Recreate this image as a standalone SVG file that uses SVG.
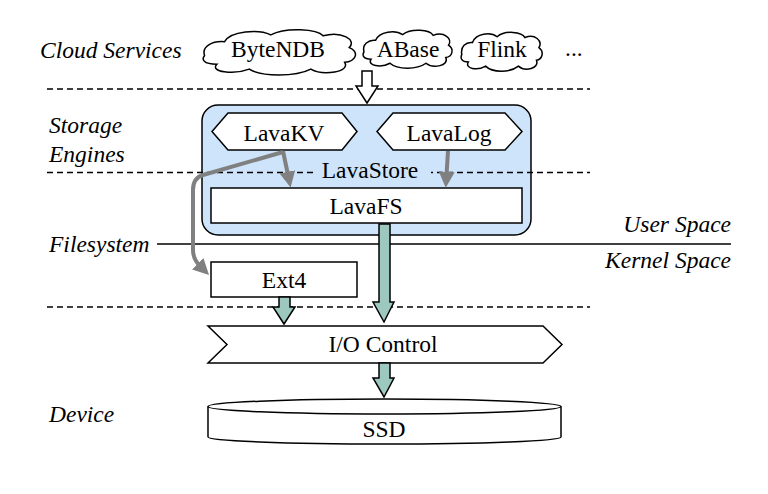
<svg xmlns="http://www.w3.org/2000/svg" width="768" height="494" viewBox="0 0 768 494">
<style>
text{font-family:"Liberation Serif","Times New Roman",serif;font-size:23.5px;fill:#000}
.lbl{font-style:italic}
.n{text-anchor:middle}
.ol{fill:#fff;stroke:#000;stroke-width:1.5}
.dash{stroke:#000;stroke-width:1.5;stroke-dasharray:6 4;fill:none}
.gray{stroke:#808080;stroke-width:4;fill:none}
.teal{fill:#9cc8bf;stroke:#000;stroke-width:1.5;stroke-linejoin:miter}
.cloud{fill:#fff;stroke:#000;stroke-width:1.5;vector-effect:non-scaling-stroke}
</style>
<defs>
<marker id="gh" viewBox="0 0 10 10" refX="2" refY="5" markerUnits="userSpaceOnUse" markerWidth="16" markerHeight="16" orient="auto">
<path d="M0,0 L10,5 L0,10 z" fill="#808080"/>
</marker>
</defs>
<rect width="768" height="494" fill="#fff"/>

<g id="layer-labels">
<text class="lbl" x="40" y="58">Cloud Services</text>
<text class="lbl" x="49" y="133">Storage</text>
<text class="lbl" x="49" y="162">Engines</text>
<text class="lbl" x="49" y="252">Filesystem</text>
<text class="lbl" x="49" y="422">Device</text>
<text class="lbl" x="731" y="232" text-anchor="end">User Space</text>
<text class="lbl" x="731" y="268" text-anchor="end">Kernel Space</text>
</g>

<g id="separators">
<line class="dash" x1="47" y1="89" x2="590" y2="89"/>
<line class="dash" x1="47" y1="307" x2="590" y2="307"/>
<line x1="157" y1="244" x2="731" y2="244" stroke="#000" stroke-width="1.5"/>
</g>

<g id="cloud-bytendb">
<path class="cloud" transform="translate(203,27) scale(154,49)" d="M0.01,0.58 C-0.01,0.40 0.06,0.28 0.14,0.30 C0.18,0.08 0.36,0.04 0.44,0.16 C0.54,0.00 0.74,0.04 0.78,0.18 C0.90,0.08 1.00,0.26 0.95,0.42 C1.02,0.52 0.99,0.70 0.92,0.72 C0.96,0.92 0.78,1.00 0.70,0.86 C0.60,1.02 0.38,1.02 0.30,0.86 C0.20,0.98 0.04,0.92 0.09,0.76 C0.00,0.76 -0.01,0.66 0.01,0.58 Z"/>
<text class="n" x="278" y="57">ByteNDB</text>
</g>
<g id="cloud-abase">
<path class="cloud" transform="translate(363,28) scale(90,41)" d="M0.01,0.58 C-0.01,0.40 0.06,0.28 0.14,0.30 C0.18,0.08 0.36,0.04 0.44,0.16 C0.54,0.00 0.74,0.04 0.78,0.18 C0.90,0.08 1.00,0.26 0.95,0.42 C1.02,0.52 0.99,0.70 0.92,0.72 C0.96,0.92 0.78,1.00 0.70,0.86 C0.60,1.02 0.38,1.02 0.30,0.86 C0.20,0.98 0.04,0.92 0.09,0.76 C0.00,0.76 -0.01,0.66 0.01,0.58 Z"/>
<text class="n" x="408" y="57">ABase</text>
</g>
<g id="cloud-flink">
<path class="cloud" transform="translate(461,30) scale(82,42)" d="M0.01,0.58 C-0.01,0.40 0.06,0.28 0.14,0.30 C0.18,0.08 0.36,0.04 0.44,0.16 C0.54,0.00 0.74,0.04 0.78,0.18 C0.90,0.08 1.00,0.26 0.95,0.42 C1.02,0.52 0.99,0.70 0.92,0.72 C0.96,0.92 0.78,1.00 0.70,0.86 C0.60,1.02 0.38,1.02 0.30,0.86 C0.20,0.98 0.04,0.92 0.09,0.76 C0.00,0.76 -0.01,0.66 0.01,0.58 Z"/>
<text class="n" x="502" y="57">Flink</text>
</g>
<text x="565" y="56">...</text>

<g id="lavastore">
<rect x="202" y="105" width="329" height="130" rx="16" fill="#cde4fb" stroke="#000" stroke-width="1.5"/>
<line class="dash" x1="47" y1="172.5" x2="590" y2="172.5"/>
<rect x="313" y="160" width="118" height="24" fill="#cde4fb"/>
<text class="n" x="370" y="178">LavaStore</text>
</g>

<g id="lavakv">
<polygon class="ol" points="212,131.5 228,113 342,113 357,131.5 342,150 228,150"/>
<text class="n" x="284" y="141">LavaKV</text>
</g>
<g id="lavalog">
<polygon class="ol" points="377,131.5 393,113 505,113 522,131.5 505,150 393,150"/>
<text class="n" x="449" y="141">LavaLog</text>
</g>
<g id="lavafs">
<rect class="ol" x="211" y="188" width="311" height="35"/>
<text class="n" x="366" y="214">LavaFS</text>
</g>
<g id="ext4">
<rect class="ol" x="211" y="262" width="146" height="35"/>
<text class="n" x="284" y="288">Ext4</text>
</g>
<g id="iocontrol">
<polygon class="ol" points="208,326 543,326 562,344.5 543,363 208,363 227,344.5"/>
<text class="n" x="383" y="352">I/O Control</text>
</g>
<g id="ssd">
<path class="ol" d="M208,406.5 A176.5,7.5 0 0 1 561,406.5 L561,437 A176.5,7 0 0 1 208,437 Z"/>
<path d="M208,406.5 A176.5,7.5 0 0 0 561,406.5" fill="none" stroke="#000" stroke-width="1.5"/>
<text class="n" x="384" y="437">SSD</text>
</g>

<g id="connectors">
<polygon points="362,71 372,71 372,86 378,86 367,103 356,86 362,86" fill="#fff" stroke="#000" stroke-width="1.5"/>
<path class="gray" d="M283,151 L288,175" marker-end="url(#gh)"/>
<path class="gray" d="M448,151 L446.5,175" marker-end="url(#gh)"/>
<path class="gray" d="M283,152 L203,175 Q193,178 193,190 L193,250 Q193,259 200,266" marker-end="url(#gh)"/>
<polygon class="teal" points="379,224 390,224 390,302 394,302 384,322 373,302 379,302"/>
<polygon class="teal" points="279,297 290,297 290,307 295,307 284,324 273,307 279,307"/>
<polygon class="teal" points="379,363 390,363 390,378 394,378 384,397 373,378 379,378"/>
</g>
</svg>
